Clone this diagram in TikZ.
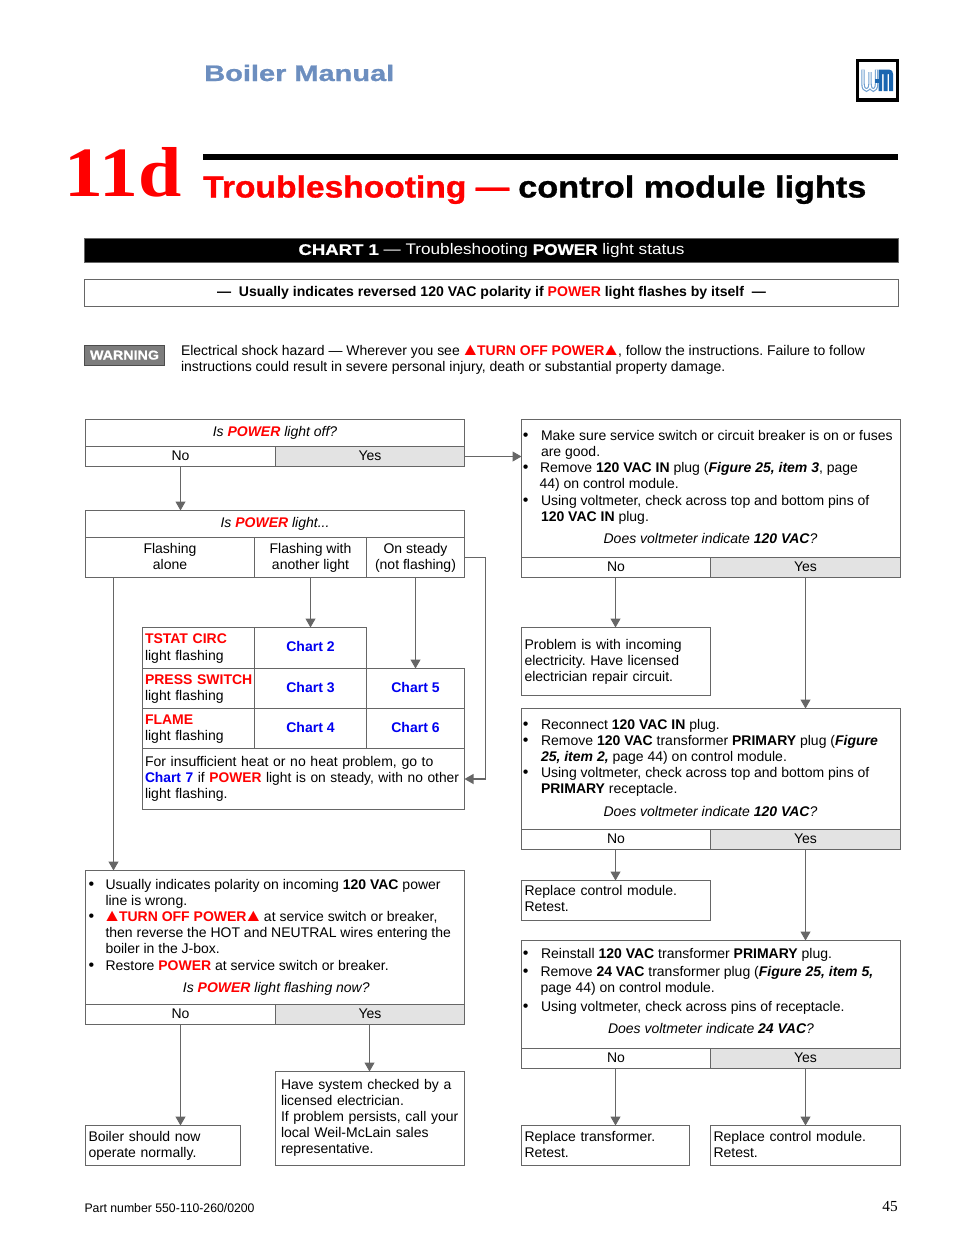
\documentclass[tikz,border=0pt]{standalone}
\usepackage{fontspec}
\usepackage{graphicx}
\setmainfont{Liberation Sans}
\newfontfamily\serifb{Liberation Serif}
\newfontfamily\heavy[BoldFeatures={FakeBold=0.9}]{Liberation Sans}
\usetikzlibrary{arrows.meta,calc}
\definecolor{ln}{HTML}{666666}
\definecolor{yesf}{HTML}{E3E3E3}
\definecolor{rd}{HTML}{FF0000}
\definecolor{bl}{HTML}{0000F0}
\definecolor{bm}{HTML}{6C8EBF}
\definecolor{wblue}{HTML}{6F9FD0}
\definecolor{mblue}{HTML}{1A66B0}
\newcommand{\body}{\fontsize{10.5pt}{12pt}\selectfont\frenchspacing}
\newcommand{\Ln}[1]{\mbox{\rule[-2.25pt]{0pt}{10.5pt}#1}}
\newcommand{\Up}[1]{\raisebox{0.75pt}{#1}}
\newcommand{\Lift}{\rule[-3.75pt]{0pt}{1pt}}
\newcommand{\R}[1]{\textcolor{rd}{\textbf{#1}}}
\newcommand{\RI}[1]{\textcolor{rd}{\textbf{\textit{#1}}}}
\newcommand{\Ch}[1]{\textcolor{bl}{\textbf{#1}}}
\newcommand{\B}[1]{\textbf{#1}}
\newcommand{\BI}[1]{\textbf{\textit{#1}}}
\newcommand{\FitW}[2]{\resizebox{#1}{\height}{#2}}
\newcommand{\Tri}{\kern-2.1pt\scalebox{1.38}[1.25]{▲}\kern-2.1pt}
% box cell: name x1 y1 x2 y2 options text
\newcommand{\cell}[7][]{\node[cellbox,#1,minimum width={(#4-#2)*0.75pt},minimum height={(#5-#3)*0.75pt}] (#6) at ({(#2+#4)/2},{(#3+#5)/2}) {#7};}
% left-aligned text cell: pad name x1 y1 x2 y2 text
\newcommand{\leaf}[7]{\node[cellbox,align=left,inner xsep={#1*0.75pt},text width={(#4-#2-2*#1)*0.75pt},minimum height={(#5-#3)*0.75pt}] (#6) at ({(#2+#4)/2},{(#3+#5)/2}) {#7};}
% paragraph: name x baseline lines
\newcommand{\para}[4]{\node[txt,anchor=north west,align=left] (#1) at ({#2},{#3-11}) {#4};}
\newcommand{\parc}[4]{\node[txt,anchor=north,align=center] (#1) at ({#2},{#3-11}) {#4};}
\newcommand{\bul}[3]{\node[txt,anchor=north] (#1) at ({#2},{#3-11}) {\Ln{\scalebox{1.15}{•}}};}
\tikzset{
  cellbox/.style={draw=ln,line width=0.8pt,inner sep=0pt,outer sep=0pt,font=\body},
  txt/.style={inner sep=0pt,outer sep=0pt,font=\body},
  yescell/.style={fill=yesf},
  conn/.style={draw=ln,line width=0.8pt,-{Triangle[width=7.5pt,length=6.75pt]}},
}
\begin{document}
\begin{tikzpicture}[x=0.75pt,y=-0.75pt]
\useasboundingbox (0,0) rectangle (954,1235);
% header
\node[inner sep=0pt,anchor=base west,text=bm,font=\heavy\fontsize{16.8pt}{18pt}\selectfont\bfseries] (hdr) at (204,81) {\FitW{142.5pt}{Boiler Manual}};
\node[inner sep=0pt,anchor=base west,text=rd,font=\serifb\fontsize{53pt}{56pt}\selectfont\bfseries] (num) at (64.5,196.7) {\FitW{87.5pt}{11d}};
\fill[black] (203,154) rectangle (898,160);
\node[inner sep=0pt,anchor=base west,font=\heavy\fontsize{23pt}{26pt}\selectfont\bfseries] (ttl) at (203,197.5) {\FitW{229.5pt}{\textcolor{rd}{Troubleshooting —}}\kern6.75pt\FitW{261pt}{control module lights}};
% logo
\fill[black] (856,59) rectangle (898.5,101.7);
\fill[white] (858.5,61.5) rectangle (896,98);
\draw[line width=2.6pt,color=wblue] (863,69.5)--(863,84) .. controls (863,92) and (870,92) .. (870,84)--(870,72) (870,84) .. controls (870,92) and (876.5,92) .. (876.5,84)--(876.5,69.5);
\draw[line width=0.9pt,white] (863,69.5)--(863,84) .. controls (863,92) and (870,92) .. (870,84)--(870,72) (870,84) .. controls (870,92) and (876.5,92) .. (876.5,84)--(876.5,69.5);
\fill[color=mblue] (875,79) rectangle (879,82.5);
\fill[color=mblue] (878.5,69.5) -- (889,69.5) .. controls (892,69.5) and (893,71.5) .. (893,74) -- (893,91) -- (889,91) -- (889,74) -- (887.5,74) -- (887.5,91) -- (883.7,91) -- (883.7,74) -- (882,74) -- (882,91) -- (878.5,91) -- cycle;
% banners
\cell[fill=black,text=white,font=\heavy\fontsize{11.5pt}{12pt}\selectfont]{84.5}{238.5}{898.5}{262.5}{band}{\Ln{\raisebox{-0.75pt}{\FitW{289.5pt}{\textbf{\scalebox{1.08}[1]{CHART 1}} — Troubleshooting \textbf{POWER} light status}}}}
\cell{84.5}{279.5}{898.5}{306.5}{note}{\Ln{\Up{\FitW{411.7pt}{\textbf{—\ \ Usually indicates reversed 120 VAC polarity if \textcolor{rd}{POWER} light flashes by itself\ \ —}}}}}
% warning
\cell[fill=ln!85,draw=black!70,text=white,font=\heavy\fontsize{9.6pt}{12pt}\selectfont\bfseries]{84.5}{345.5}{164.5}{365.5}{warn}{\Ln{\FitW{51.7pt}{WARNING}}}
\para{wtxt}{181}{355}{\Ln{\FitW{513pt}{Electrical shock hazard — Wherever you see \R{\Tri TURN OFF POWER\Tri}, follow the instructions. Failure to follow}}\\\Ln{instructions could result in severe personal injury, death or substantial property damage.}}
% Q1
\cell{85.5}{419.5}{464.5}{446.5}{qa}{\Ln{\Up{\textit{Is \RI{POWER} light off?}}}}
\cell{85.5}{446.5}{275.5}{466.5}{qano}{\Ln{No}}
\cell[yescell]{275.5}{446.5}{464.5}{466.5}{qayes}{\Ln{Yes}}
% Q2
\cell{85.5}{510.5}{464.5}{537.5}{qb}{\Ln{\Up{\textit{Is \RI{POWER} light...}}}}
\cell[align=center]{85.5}{537.5}{254.5}{577.5}{flal}{\Ln{Flashing}\\\Ln{alone}}
\cell[align=center]{254.5}{537.5}{366.5}{577.5}{flan}{\Ln{Flashing with}\\\Ln{another light}}
\cell[align=center]{366.5}{537.5}{464.5}{577.5}{stdy}{\Ln{On steady}\\\Ln{(not flashing)}}
\coordinate (flalout) at (113.5,577.5);
% table
\leaf{2.5}{142.5}{627.5}{254.5}{668.5}{tsl}{\Ln{\Up{\R{TSTAT CIRC}}}\\\Ln{light flashing}}
\cell{254.5}{627.5}{366.5}{668.5}{ch2}{\Ln{\Up{\Ch{Chart 2}}}}
\leaf{2.5}{142.5}{668.5}{254.5}{708.5}{prl}{\Ln{\R{PRESS SWITCH}}\\\Ln{light flashing}}
\cell{254.5}{668.5}{366.5}{708.5}{ch3}{\Ln{\Ch{Chart 3}}}
\cell{366.5}{668.5}{464.5}{708.5}{ch5}{\Ln{\Ch{Chart 5}}}
\leaf{2.5}{142.5}{708.5}{254.5}{748.5}{fll}{\Ln{\R{FLAME}}\\\Ln{light flashing}}
\cell{254.5}{708.5}{366.5}{748.5}{ch4}{\Ln{\Ch{Chart 4}}}
\cell{366.5}{708.5}{464.5}{748.5}{ch6}{\Ln{\Ch{Chart 6}}}
\leaf{2.5}{142.5}{748.5}{464.5}{809.5}{ins}{\Ln{For insufficient heat or no heat problem, go to}\\\Ln{\FitW{235.5pt}{\Ch{Chart 7} if \R{POWER} light is on steady, with no other}}\\\Ln{light flashing.\Lift}}
% left lower box
\cell{85.5}{870.5}{464.5}{1004.5}{ltop}{}
\bul{lb1}{91.5}{889}\para{lt1}{105.5}{889}{\Ln{Usually indicates polarity on incoming \B{120 VAC} power}\\\Ln{line is wrong.}}
\bul{lb2}{91.5}{921}\para{lt2}{105.5}{921}{\Ln{\R{\Tri TURN OFF POWER\Tri} at service switch or breaker,}\\\Ln{then reverse the HOT and NEUTRAL wires entering the}\\\Ln{boiler in the J-box.}}
\bul{lb3}{91.5}{970}\para{lt3}{105.5}{970}{\Ln{Restore \R{POWER} at service switch or breaker.}}
\parc{lq}{276.3}{992}{\Ln{\textit{Is \RI{POWER} light flashing now?}}}
\cell{85.5}{1004.5}{275.5}{1024.5}{lno}{\Ln{No}}
\cell[yescell]{275.5}{1004.5}{464.5}{1024.5}{lyes}{\Ln{Yes}}
\leaf{3}{85.5}{1125.5}{240.5}{1165.5}{bnorm}{\Ln{Boiler should now}\\\Ln{operate normally.}}
\leaf{5.5}{275.5}{1071.5}{464.5}{1165.5}{have}{\Ln{Have system checked by a}\\\Ln{licensed electrician.}\\\Ln{If problem persists, call your}\\\Ln{local Weil-McLain sales}\\\Ln{representative.\Lift}}
% right box 1
\cell{521.5}{419.5}{900.5}{557.5}{ra}{}
\bul{rab1}{525.7}{440.5}\para{rat1}{541}{440.5}{\Ln{Make sure service switch or circuit breaker is on or fuses}\\\Ln{are good.}}
\bul{rab2}{525.7}{472}\para{rat2}{540}{472}{\Ln{Remove \B{120 VAC IN} plug (\BI{Figure 25, item 3}, page}}
\para{rat2b}{539.5}{488}{\Ln{44) on control module.}}
\bul{rab3}{525.7}{505}\para{rat3}{541}{505}{\Ln{Using voltmeter, check across top and bottom pins of}\\\Ln{\B{120 VAC IN} plug.}}
\parc{raq}{710.5}{543}{\Ln{\textit{Does voltmeter indicate \BI{120 VAC}?}}}
\cell{521.5}{557.5}{710.5}{577.5}{rano}{\Ln{No}}
\cell[yescell]{710.5}{557.5}{900.5}{577.5}{rayes}{\Ln{Yes}}
\leaf{3}{521.5}{627.5}{710.5}{695.5}{prob}{\Ln{Problem is with incoming}\\\Ln{electricity. Have licensed}\\\Ln{electrician repair circuit.}}
% right box 2
\cell{521.5}{708.5}{900.5}{829.5}{rb}{}
\bul{rbb1}{525.7}{729}\para{rbt1}{541}{729}{\Ln{Reconnect \B{120 VAC IN} plug.}}
\bul{rbb2}{525.7}{745}\para{rbt2}{541}{745}{\Ln{Remove \B{120 VAC} transformer \B{PRIMARY} plug (\BI{Figure}}\\\Ln{\BI{25, item 2,} page 44) on control module.}}
\bul{rbb3}{525.7}{777}\para{rbt3}{541}{777}{\Ln{Using voltmeter, check across top and bottom pins of}\\\Ln{\B{PRIMARY} receptacle.}}
\parc{rbq}{710.5}{816}{\Ln{\textit{Does voltmeter indicate \BI{120 VAC}?}}}
\cell{521.5}{829.5}{710.5}{849.5}{rbno}{\Ln{No}}
\cell[yescell]{710.5}{829.5}{900.5}{849.5}{rbyes}{\Ln{Yes}}
\leaf{3}{521.5}{880.5}{710.5}{920.5}{repa}{\Ln{Replace control module.}\\\Ln{Retest.\Lift}}
% right box 3
\cell{521.5}{940.5}{900.5}{1048.5}{rc}{}
\bul{rcb1}{525.7}{958}\para{rct1}{541}{958}{\Ln{Reinstall \B{120 VAC} transformer \B{PRIMARY} plug.}}
\bul{rcb2}{525.7}{976}\para{rct2}{540.5}{976}{\Ln{Remove \B{24 VAC} transformer plug (\BI{Figure 25, item 5,}}\\\Ln{page 44) on control module.}}
\bul{rcb3}{525.7}{1011}\para{rct3}{541}{1011}{\Ln{Using voltmeter, check across pins of receptacle.}}
\parc{rcq}{711}{1033}{\Ln{\textit{Does voltmeter indicate \BI{24 VAC}?}}}
\cell{521.5}{1048.5}{710.5}{1068.5}{rcno}{\Ln{No}}
\cell[yescell]{710.5}{1048.5}{900.5}{1068.5}{rcyes}{\Ln{Yes}}
\leaf{3}{521.5}{1125.5}{689.5}{1165.5}{rept}{\Ln{Replace transformer.}\\\Ln{Retest.}}
\leaf{3}{710.5}{1125.5}{900.5}{1165.5}{repb}{\Ln{Replace control module.}\\\Ln{Retest.}}
% footer
\node[inner sep=0pt,anchor=base west,font=\fontsize{9.3pt}{11pt}\selectfont] (part) at (84.3,1212) {\FitW{127.5pt}{Part number 550-110-260/0200}};
\node[inner sep=0pt,anchor=base east,font=\serifb\fontsize{11.5pt}{12pt}\selectfont] (pg) at (898,1211.7) {45};
% connectors
\draw[conn] (qano.south) -- (qano.south |- qb.north);
\draw[conn] (qayes.east) -- (qayes.east -| ra.west);
\draw[conn] (flalout) -- (flalout |- ltop.north);
\draw[conn] (flan.south) -- (ch2.north);
\draw[conn] (stdy.south) -- (ch5.north);
\draw[conn] (stdy.east) -- ++(21,0) |- (ins.east);
\draw[conn] (lno.south) -- (lno.south |- bnorm.north);
\draw[conn] ([xshift=-0.375pt]lyes.south) -- ([xshift=-0.375pt]have.north);
\draw[conn] ([xshift=-0.375pt]rano.south) -- ([xshift=-0.375pt]prob.north);
\draw[conn] (rayes.south) -- (rayes.south |- rb.north);
\draw[conn] ([xshift=-0.375pt]rbno.south) -- ([xshift=-0.375pt]repa.north);
\draw[conn] (rbyes.south) -- (rbyes.south |- rc.north);
\draw[conn] ([xshift=-0.375pt]rcno.south) -- ([xshift=-0.375pt]rcno.south |- rept.north);
\draw[conn] (rcyes.south) -- (repb.north);
\end{tikzpicture}
\end{document}
